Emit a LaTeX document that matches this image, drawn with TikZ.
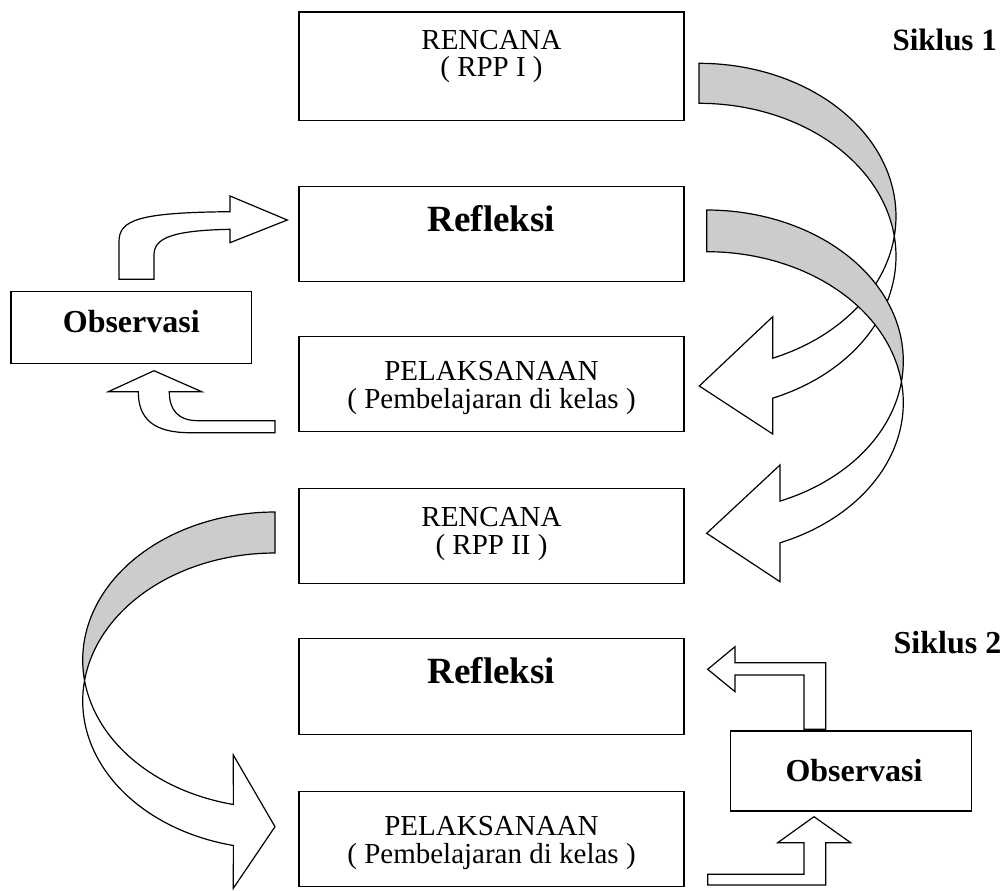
\documentclass[tikz,border=0pt]{standalone}
\usepackage{fontspec}
\setmainfont{Liberation Serif}
\definecolor{bandgray}{RGB}{204,204,204}
\begin{document}
\begin{tikzpicture}[x=1pt,y=-1pt,line join=miter,
  box/.style={draw=black,line width=1.2pt,rectangle,inner sep=0pt,fill=white},
  reg/.style={anchor=base,inner sep=0pt,font=\fontsize{29}{32}\selectfont},
  bigb/.style={anchor=base,inner sep=0pt,font=\fontsize{37}{40}\selectfont\bfseries},
  obsb/.style={anchor=base,inner sep=0pt,font=\fontsize{32}{35}\selectfont\bfseries},
  sik/.style={anchor=base east,inner sep=0pt,font=\fontsize{31}{34}\selectfont\bfseries},
  shp/.style={draw=black,line width=1.2pt},
  back/.style={shp,fill=bandgray},
  front/.style={shp,fill=white}]
\useasboundingbox (0,0) rectangle (1005,891);

% boxes
\node[box,minimum width=385pt,minimum height=108.5pt] (r1) at (491.5,66.2) {};
\node[box,minimum width=385pt,minimum height=95pt] (ref1) at (491.5,234.2) {};
\node[box,minimum width=385pt,minimum height=95pt] (pel1) at (491.5,384.2) {};
\node[box,minimum width=385pt,minimum height=95pt] (r2) at (491.5,535.8) {};
\node[box,minimum width=385pt,minimum height=96pt] (ref2) at (491.5,686.3) {};
\node[box,minimum width=385pt,minimum height=95pt] (pel2) at (491.5,839.2) {};
\node[box,minimum width=240.7pt,minimum height=71.6pt] (obs1) at (131.3,327.5) {};
\node[box,minimum width=241pt,minimum height=80pt] (obs2) at (851.2,771) {};

% texts
\node[reg] (r1a) at (491.5,49.3) {RENCANA};
\node[reg] (r1b) at (491.5,76.5) {( RPP I )};
\node[bigb] (ref1t) at (491.5,231.7) {Refleksi};
\node[reg] (pel1a) at (491.5,380) {PELAKSANAAN};
\node[reg] (pel1b) at (491.5,408) {( Pembelajaran di kelas )};
\node[reg] (r2a) at (491.5,526.7) {RENCANA};
\node[reg] (r2b) at (491.5,554) {( RPP II )};
\node[bigb] (ref2t) at (491.5,683.3) {Refleksi};
\node[reg] (pel2a) at (491.5,835) {PELAKSANAAN};
\node[reg] (pel2b) at (491.5,863) {( Pembelajaran di kelas )};
\node[obsb] (obs1t) at (131.3,332.7) {Observasi};
\node[obsb] (obs2t) at (854,781.7) {Observasi};
\node[sik] (s1) at (997,51) {Siklus 1};
\node[sik,font=\fontsize{32}{35}\selectfont\bfseries] (s2) at (1001.5,653) {Siklus 2};

% curved arrow 1 (RENCANA I -> PELAKSANAAN I)
\draw[back] plot[domain=90:-7.5,samples=60,variable=\t] ({699+197*cos(\t)},{216.3-153*sin(\t)})
  -- plot[domain=7.5:90,samples=60,variable=\t] ({699+197*cos(\t)},{256.3-153*sin(\t)}) -- cycle;
\draw[front] plot[domain=7.5:-68,samples=60,variable=\t] ({699+197*cos(\t)},{256.3-153*sin(\t)})
  -- (772.7,434) -- (699.3,386) -- (772.7,316.7)
  -- plot[domain=-68:-7.5,samples=60,variable=\t] ({699+197*cos(\t)},{216.3-153*sin(\t)}) -- cycle;

% curved arrow 2 (Refleksi I -> RENCANA II)
\draw[back] plot[domain=90:-7.9,samples=60,variable=\t] ({706.7+196.6*cos(\t)},{361-151*sin(\t)})
  -- plot[domain=7.9:90,samples=60,variable=\t] ({706.7+196.6*cos(\t)},{402.7-151*sin(\t)}) -- cycle;
\draw[front] plot[domain=7.9:-68.1,samples=60,variable=\t] ({706.7+196.6*cos(\t)},{402.7-151*sin(\t)})
  -- (780,581.7) -- (706.7,533.3) -- (780,465)
  -- plot[domain=-68.1:-7.9,samples=60,variable=\t] ({706.7+196.6*cos(\t)},{361-151*sin(\t)}) -- cycle;

% curved arrow 3 (RENCANA II -> PELAKSANAAN II)
\draw[back] plot[domain=90:-8,samples=60,variable=\t] ({275-192.3*cos(\t)},{660-148*sin(\t)})
  -- plot[domain=8:90,samples=60,variable=\t] ({275-192.3*cos(\t)},{701-148*sin(\t)}) -- cycle;
\draw[front] plot[domain=8:-77.5,samples=60,variable=\t] ({275-192.3*cos(\t)},{701-148*sin(\t)})
  -- (233.3,888.3) -- (275,826.7) -- (233.3,755)
  -- plot[domain=-77.5:-8,samples=60,variable=\t] ({275-192.3*cos(\t)},{660-148*sin(\t)}) -- cycle;

% bent arrow: Observasi I -> Refleksi I
\draw[front] (119,279.3) -- (119,241.7) .. controls (119,220) and (138,212.5) .. (230,211.7)
  -- (230,196) -- (287.3,220) -- (230,242.7) -- (230,229.3)
  .. controls (172,230.5) and (154,238) .. (154,255) -- (154,279.3) -- cycle;

% bent arrow: PELAKSANAAN I -> Observasi I
\draw[front] (275,432.7) -- (190,432.7) .. controls (155,432.7) and (138.3,420) .. (138.3,391.7)
  -- (108.3,391.7) -- (154,370.7) -- (201.7,391.7) -- (169.3,391.7)
  .. controls (169.3,410) and (178,420.7) .. (198.3,420.7) -- (275,420.7) -- cycle;

% bent arrow: Observasi II -> Refleksi II
\draw[front] (804,729.3) -- (825.7,729.3) -- (825.7,662.7) -- (735,662.7) -- (735,646.7)
  -- (707.7,669.3) -- (735,691.7) -- (735,675) -- (804,675) -- cycle;

% bent arrow: PELAKSANAAN II -> Observasi II
\draw[front] (707.7,874.3) -- (707.7,885) -- (825.7,885) -- (825.7,842.7) -- (850.7,842.7)
  -- (814,816.7) -- (777.7,842.7) -- (804,842.7) -- (804,874.3) -- cycle;
\end{tikzpicture}
\end{document}
